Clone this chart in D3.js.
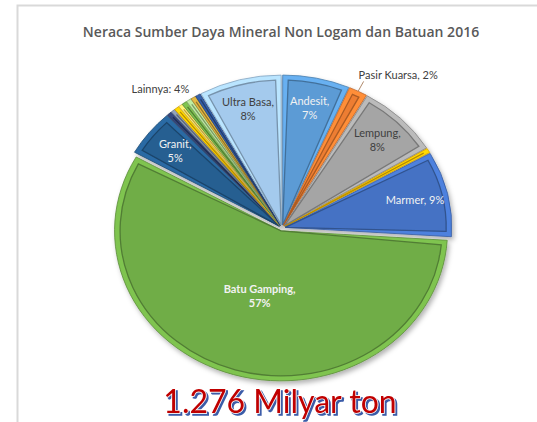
<!DOCTYPE html>
<html>
<head>
<meta charset="utf-8">
<script src="https://cdn.jsdelivr.net/npm/d3@7"></script>
<style>
  body { margin: 0; background: #fff; }
  #chart { width: 537px; height: 422px; }
  text { font-family: Lato, "Open Sans", sans-serif; }
</style>
</head>
<body>
<div id="chart"></div>
<script>
// Chart data (percent of 1.276 billion ton), clockwise from 12 o'clock
const categories = ["Andesit", "Pasir Kuarsa", "Lempung", "Lainnya 1", "Marmer", "Batu Gamping",
                    "Granit", "Lainnya 2", "Lainnya 3", "Lainnya 4", "Lainnya 5", "Lainnya 6",
                    "Lainnya 7", "Lainnya 8", "Lainnya 9", "Ultra Basa"];
const values = [6.5, 1.8, 8.0, 0.5, 9.2, 57.2,
                5.0, 0.5, 0.4, 0.5, 0.4, 0.5, 0.5, 0.5, 0.5, 8.0];
const colors = ["#5b9bd5", "#ed7d31", "#a5a5a5", "#ffc000", "#4472c4", "#70ad47",
                "#255e91", "#2f3f6f", "#7f8fa6", "#ffc000", "#ffd966", "#70ad47",
                "#a9d18e", "#c9a23a", "#2f5597", "#a4caed"];
// "|" splits a label onto two lines, "" means no label
const dataLabels = ["Andesit,|7%", "Pasir Kuarsa, 2%", "Lempung,|8%", "", "Marmer, 9%", "Batu Gamping,|57%",
                    "Granit,|5%", "", "", "", "", "", "", "", "", "Ultra Basa,|8%"];
const outsideLabels = ["Pasir Kuarsa"];
const othersGroup = ["Lainnya 2", "Lainnya 3", "Lainnya 4", "Lainnya 5", "Lainnya 6", "Lainnya 7", "Lainnya 8", "Lainnya 9"];
const othersLabel = "Lainnya: 4%";
const chartTitle = "Neraca Sumber Daya Mineral Non Logam dan Batuan 2016";
const totalText = "1.276 Milyar ton";

const width = 537, height = 422;
const cx = 282, cy = 228;
const radius = 150;
const stretch = 1.11;   // the picture is a bit wider than tall
const explode = 3;

const svg = d3.select("#chart").append("svg")
              .attr("width", width)
              .attr("height", height);

const defs = svg.append("defs");

// soft shadow under the pie
defs.append("filter")
    .attr("id", "shadow")
    .attr("x", "-20%").attr("y", "-20%")
    .attr("width", "140%").attr("height", "140%")
    .append("feDropShadow")
    .attr("dx", 2).attr("dy", 3)
    .attr("stdDeviation", 2.5)
    .attr("flood-color", "#000")
    .attr("flood-opacity", 0.3);

// blue offset shadow for the total text
const txtShadow = defs.append("filter")
                      .attr("id", "blueShadow")
                      .attr("x", "-10%").attr("y", "-30%")
                      .attr("width", "120%").attr("height", "160%");
txtShadow.append("feOffset").attr("in", "SourceAlpha").attr("dx", 2).attr("dy", 2).attr("result", "off");
txtShadow.append("feFlood").attr("flood-color", "#3a5ba8").attr("result", "blue");
txtShadow.append("feComposite").attr("in", "blue").attr("in2", "off").attr("operator", "in").attr("result", "sh");
const merge = txtShadow.append("feMerge");
merge.append("feMergeNode").attr("in", "sh");
merge.append("feMergeNode").attr("in", "SourceGraphic");

// frame of the chart area
svg.append("path")
   .attr("d", `M17.5,${height} L17.5,5.5 L${width},5.5`)
   .attr("fill", "none")
   .attr("stroke", "#d9d9d9")
   .attr("stroke-width", 2);

// Title
svg.append("text")
   .attr("x", 281)
   .attr("y", 37)
   .attr("text-anchor", "middle")
   .style("font-family", "'Open Sans', sans-serif")
   .style("font-size", "14px")
   .style("font-weight", 600)
   .style("fill", "#595959")
   .text(chartTitle);

const data = categories.map((c, i) => ({ name: c, value: values[i], color: colors[i], label: dataLabels[i] }));

const pie = d3.pie().sort(null).value(d => d.value);
const arcs = pie(data);

const outerArc = d3.arc().innerRadius(0).outerRadius(radius);
const innerArc = d3.arc().innerRadius(0).outerRadius(radius - 5)
                   .padRadius(radius).padAngle(10 / radius);

// point on the (stretched) pie for an angle and radius
function polar(angle, r) {
    return [cx + Math.sin(angle) * r * stretch, cy - Math.cos(angle) * r];
}
const midAngle = d => (d.startAngle + d.endAngle) / 2;

const pieLayer = svg.append("g")
                    .attr("filter", "url(#shadow)");

const slices = pieLayer.selectAll("g.slice")
                       .data(arcs)
                       .join("g")
                       .attr("class", "slice")
                       .attr("transform", d => {
                           const a = midAngle(d);
                           const dx = cx + Math.sin(a) * explode * stretch;
                           const dy = cy - Math.cos(a) * explode;
                           return `translate(${dx},${dy}) scale(${stretch},1)`;
                       });

// outer rim (bevel)
slices.append("path")
      .attr("d", outerArc)
      .attr("fill", d => d3.color(d.data.color).brighter(0.35))
      .attr("stroke", d => d3.color(d.data.color).darker(0.6))
      .attr("stroke-width", 0.8)
      .attr("vector-effect", "non-scaling-stroke");

// inner face
slices.append("path")
      .attr("d", innerArc)
      .attr("fill", d => d.data.color)
      .attr("stroke", d => d3.color(d.data.color).darker(0.9))
      .attr("stroke-width", 1.3)
      .attr("vector-effect", "non-scaling-stroke");

// Inside labels
const labelLayer = svg.append("g");
arcs.filter(d => d.data.label && !outsideLabels.includes(d.data.name)).forEach(d => {
    const a = midAngle(d);
    const f = d.data.value > 30 ? 0.45 : 0.8;
    const [x, y] = polar(a, radius * f + explode);
    const lines = d.data.label.split("|");
    const light = d3.hsl(d.data.color).l > 0.62;
    const t = labelLayer.append("text")
                        .attr("text-anchor", "middle")
                        .style("font-size", "11px")
                        .style("font-weight", d.data.value > 30 ? "bold" : "normal")
                        .style("fill", light ? "#404040" : "#f2f2f2");
    lines.forEach((line, i) => {
        t.append("tspan")
         .attr("x", x)
         .attr("y", y + (i - (lines.length - 1) / 2) * 14 + 4)
         .text(line);
    });
});

// Outside labels with a leader line
arcs.filter(d => outsideLabels.includes(d.data.name)).forEach(d => {
    const a = midAngle(d);
    const p0 = polar(a, radius + explode);
    const p1 = polar(a, radius + 14);
    labelLayer.append("line")
              .attr("x1", p0[0]).attr("y1", p0[1])
              .attr("x2", p1[0]).attr("y2", p1[1])
              .attr("stroke", "#b0896a")
              .attr("stroke-width", 1);
    labelLayer.append("text")
              .attr("x", p1[0] - 5)
              .attr("y", p1[1] - 2)
              .style("font-size", "11px")
              .style("fill", "#404040")
              .text(d.data.label);
});

// label for the group of small slices
const group = arcs.filter(d => othersGroup.includes(d.data.name));
const groupAngle = (d3.min(group, d => d.startAngle) + d3.max(group, d => d.endAngle)) / 2;
const gp = polar(groupAngle, radius * 1.15);
labelLayer.append("text")
          .attr("x", gp[0] - 10)
          .attr("y", gp[1] + 5)
          .attr("text-anchor", "middle")
          .style("font-size", "11px")
          .style("fill", "#404040")
          .text(othersLabel);

// Total amount below the pie
svg.append("text")
   .attr("x", 280).attr("y", 413)
   .attr("text-anchor", "middle")
   .attr("filter", "url(#blueShadow)")
   .style("font-size", "32px")
   .style("fill", "#c00000")
   .attr("stroke", "#ffffff")
   .attr("stroke-width", 1.4)
   .attr("paint-order", "stroke")
   .text(totalText);
</script>
</body>
</html>
